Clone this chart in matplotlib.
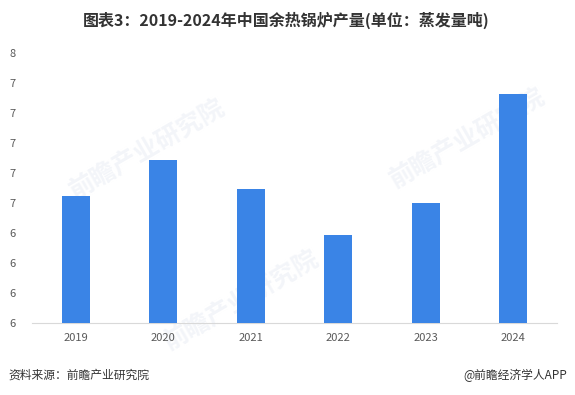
import numpy as np
import matplotlib.pyplot as plt

plt.rcParams['font.family'] = ['Noto Sans CJK SC', 'DejaVu Sans']

years = ['2019', '2020', '2021', '2022', '2023', '2024']
output = [6.65, 6.89, 6.69, 6.39, 6.60, 7.33]
yticks = [5.8, 6.0, 6.2, 6.4, 6.6, 6.8, 7.0, 7.2, 7.4, 7.6]

fig = plt.figure(figsize=(5.75, 3.95), dpi=100)
ax = fig.add_axes([32 / 575, 1 - 323 / 395, 525 / 575, 270 / 395])

x = np.arange(len(years))
ax.bar(x, output, width=0.32, color='#3a84e6', zorder=3)

ax.set_xlim(-0.5, len(years) - 0.5)
ax.set_ylim(yticks[0], yticks[-1])
ax.set_xticks(x)
ax.set_xticklabels(years)
ax.set_yticks(yticks)
ax.set_yticklabels(['{:.0f}'.format(v) for v in yticks])
ax.tick_params(length=0, labelsize=8, colors='#595959')
ax.tick_params(axis='y', pad=12)
ax.tick_params(axis='x', pad=7)

for side in ['top', 'right', 'left']:
    ax.spines[side].set_visible(False)
ax.spines['bottom'].set_color('#d9d9d9')

# faint watermarks
for wx, wy in [(0.22, 0.64), (0.83, 0.68), (0.40, 0.08)]:
    ax.text(wx, wy, '前瞻产业研究院', transform=ax.transAxes, fontsize=18,
            fontweight='bold', color='#f3f5f9', rotation=30,
            ha='center', va='center', zorder=1)

fig.text(0.497, 1 - 20 / 395, '图表3：2019-2024年中国余热锅炉产量(单位：蒸发量吨)',
         ha='center', va='center', fontsize=11.5, fontweight='bold', color='#333333')
fig.text(8 / 575, 1 - 375 / 395, '资料来源：前瞻产业研究院',
         ha='left', va='center', fontsize=8.5, color='#333333')
fig.text(567 / 575, 1 - 375 / 395, '@前瞻经济学人APP',
         ha='right', va='center', fontsize=8.5, color='#333333')

fig.savefig('out.png', dpi=100)
